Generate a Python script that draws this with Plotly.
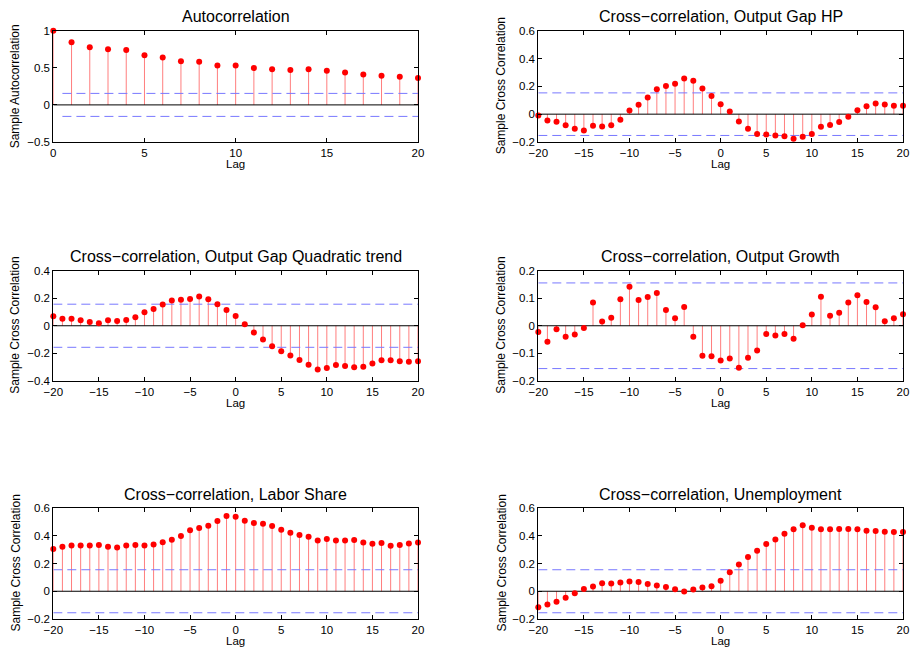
import plotly.graph_objects as go

# ---------------- data ----------------
lags_acf = list(range(0, 21))
acf_vals = [1.0, 0.844, 0.777, 0.75, 0.741, 0.67, 0.638, 0.589, 0.58, 0.531, 0.531,
            0.496, 0.482, 0.469, 0.482, 0.46, 0.4375, 0.41, 0.393, 0.38, 0.362]

lags_xc = list(range(-20, 21))
xc_hp = [-0.01, -0.045, -0.055, -0.08, -0.105, -0.117, -0.084, -0.089, -0.08, -0.04,
         0.026, 0.067, 0.12, 0.18, 0.203, 0.218, 0.256, 0.24, 0.184, 0.131,
         0.072, 0.019, -0.053, -0.105, -0.143, -0.146, -0.153, -0.158, -0.177, -0.163,
         -0.143, -0.091, -0.077, -0.057, -0.019, 0.029, 0.057, 0.077, 0.069, 0.06, 0.06]
xc_quad = [0.068, 0.051, 0.051, 0.039, 0.027, 0.019, 0.039, 0.034, 0.041, 0.061,
           0.097, 0.121, 0.153, 0.182, 0.189, 0.194, 0.211, 0.192, 0.155, 0.114,
           0.07, 0.01, -0.049, -0.1, -0.148, -0.184, -0.216, -0.248, -0.282, -0.316,
           -0.306, -0.284, -0.291, -0.301, -0.296, -0.274, -0.25, -0.25, -0.257, -0.26, -0.257]
xc_growth = [-0.023, -0.058, -0.013, -0.04, -0.032, -0.008, 0.084, 0.015, 0.029, 0.096,
             0.141, 0.093, 0.104, 0.119, 0.057, 0.027, 0.068, -0.04, -0.109, -0.11,
             -0.126, -0.119, -0.152, -0.116, -0.09, -0.03, -0.035, -0.03, -0.047, 0.002,
             0.041, 0.105, 0.036, 0.047, 0.084, 0.11, 0.086, 0.067, 0.016, 0.027, 0.042]
xc_labor = [0.304, 0.32, 0.33, 0.33, 0.33, 0.333, 0.32, 0.316, 0.33, 0.333,
            0.33, 0.337, 0.354, 0.371, 0.398, 0.439, 0.455, 0.472, 0.506, 0.542,
            0.537, 0.508, 0.492, 0.487, 0.47, 0.443, 0.422, 0.405, 0.393, 0.366,
            0.376, 0.366, 0.366, 0.369, 0.352, 0.342, 0.347, 0.328, 0.333, 0.345, 0.352]
xc_unemp = [-0.116, -0.096, -0.075, -0.046, -0.014, 0.017, 0.034, 0.058, 0.055, 0.063,
            0.07, 0.067, 0.053, 0.041, 0.031, 0.014, -0.002, 0.012, 0.027, 0.036,
            0.075, 0.137, 0.193, 0.246, 0.292, 0.34, 0.373, 0.414, 0.446, 0.475,
            0.458, 0.446, 0.446, 0.448, 0.448, 0.446, 0.436, 0.434, 0.429, 0.427, 0.427]

titles = ["Autocorrelation", "Cross\u2212correlation, Output Gap HP",
          "Cross\u2212correlation, Output Gap Quadratic trend", "Cross\u2212correlation, Output Growth",
          "Cross\u2212correlation, Labor Share", "Cross\u2212correlation, Unemployment"]
ytitles = ["Sample Autocorrelation"] + ["Sample Cross Correlation"] * 5
bounds = [0.155, 0.153, 0.156, 0.155, 0.155, 0.155]
yranges = [[-0.5, 1], [-0.2, 0.6], [-0.4, 0.4], [-0.2, 0.2], [-0.2, 0.6], [-0.2, 0.6]]
ydticks = [0.5, 0.2, 0.2, 0.1, 0.2, 0.2]

series = [(lags_acf, acf_vals), (lags_xc, xc_hp), (lags_xc, xc_quad),
          (lags_xc, xc_growth), (lags_xc, xc_labor), (lags_xc, xc_unemp)]

# ---------------- layout geometry ----------------
W, H = 911, 651
xdoms = [[53.3 / W, 418 / W], [538.3 / W, 903 / W]]
row_px = [(30.7, 142), (270.5, 381), (508, 619)]
ydoms = [[1 - b / H, 1 - t / H] for t, b in row_px]

FONT = "Liberation Sans, Arial, Helvetica, sans-serif"
STEM = "rgba(255,40,40,0.6)"
BND = "rgb(120,120,255)"

fig = go.Figure()
layout = dict(width=W, height=H, margin=dict(l=0, r=0, t=0, b=0),
              paper_bgcolor="white", plot_bgcolor="white", showlegend=False,
              font=dict(family=FONT, size=11, color="black"))
annotations = []

for i, (lags, vals) in enumerate(series):
    r, c = divmod(i, 2)
    n = i + 1
    xa = "x" if n == 1 else f"x{n}"
    ya = "y" if n == 1 else f"y{n}"
    xmin, xmax = lags[0], lags[-1]

    # stems
    sx, sy = [], []
    for l, v in zip(lags, vals):
        sx += [l, l, None]
        sy += [0, v, None]
    fig.add_trace(go.Scatter(x=sx, y=sy, mode="lines", xaxis=xa, yaxis=ya,
                             line=dict(color=STEM, width=1), hoverinfo="skip"))
    # zero line
    fig.add_trace(go.Scatter(x=[xmin, xmax], y=[0, 0], mode="lines", xaxis=xa, yaxis=ya,
                             line=dict(color="black", width=1), hoverinfo="skip"))
    # confidence bounds
    bx0 = xmin + 0.5 if i == 0 else xmin
    for s in (1, -1):
        fig.add_trace(go.Scatter(x=[bx0, xmax], y=[s * bounds[i], s * bounds[i]], mode="lines",
                                 xaxis=xa, yaxis=ya,
                                 line=dict(color=BND, width=1, dash="9px,5px"), hoverinfo="skip"))
    # markers
    fig.add_trace(go.Scatter(x=lags, y=vals, mode="markers", xaxis=xa, yaxis=ya,
                             marker=dict(color="red", size=6, line=dict(width=0)),
                             cliponaxis=False))

    axcommon = dict(showgrid=False, zeroline=False, showline=True, linecolor="black",
                    linewidth=1, mirror="allticks", ticks="inside", ticklen=4,
                    tickcolor="black", tickfont=dict(family=FONT, size=11.5, color="black"),
                    automargin=False)
    layout["xaxis" if n == 1 else f"xaxis{n}"] = dict(
        axcommon, domain=xdoms[c], range=[xmin, xmax], dtick=5, tick0=0,
        anchor=ya)
    layout["yaxis" if n == 1 else f"yaxis{n}"] = dict(
        axcommon, domain=ydoms[r], range=yranges[i], dtick=ydticks[i], tick0=0,
        anchor=xa)

    xc = (xdoms[c][0] + xdoms[c][1]) / 2
    top, bot = row_px[r]
    annotations.append(dict(text=titles[i], x=xc, y=1 - (top - 14) / H, xref="paper", yref="paper",
                            xanchor="center", yanchor="middle", showarrow=False,
                            font=dict(family=FONT, size=16, color="black")))
    annotations.append(dict(text="Lag", x=xc, y=1 - (bot + 22) / H, xref="paper", yref="paper",
                            xanchor="center", yanchor="middle", showarrow=False,
                            font=dict(family=FONT, size=11.5, color="black")))
    ytx = 15 / W if c == 0 else 501 / W
    annotations.append(dict(text=ytitles[i], x=ytx, y=1 - ((top + bot) / 2) / H,
                            xref="paper", yref="paper", xanchor="center", yanchor="middle",
                            textangle=-90, showarrow=False,
                            font=dict(family=FONT, size=12, color="black")))

layout["annotations"] = annotations
fig.update_layout(**layout)
fig.write_html("out.html",
               config={"displayModeBar": False},
               post_script="document.body.style.margin='0';document.body.style.overflow='hidden';")
